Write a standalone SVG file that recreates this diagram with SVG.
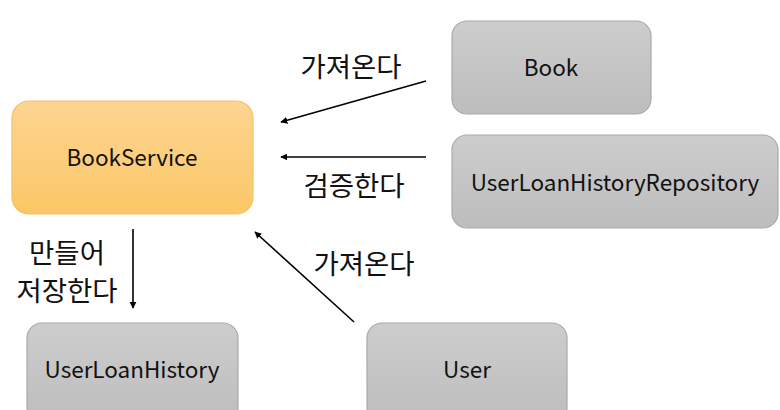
<svg xmlns="http://www.w3.org/2000/svg" width="780" height="410" viewBox="0 0 780 410">
<defs>
<linearGradient id="gOr" x1="0" y1="0" x2="0" y2="1"><stop offset="0" stop-color="#fdd592"/><stop offset="1" stop-color="#fbc766"/></linearGradient>
<linearGradient id="gGr" x1="0" y1="0" x2="0" y2="1"><stop offset="0" stop-color="#cdcdcd"/><stop offset="1" stop-color="#bdbdbd"/></linearGradient>
<marker id="ah" viewBox="0 0 10 10" refX="9" refY="5" markerWidth="7" markerHeight="7" markerUnits="userSpaceOnUse" orient="auto"><path d="M0,0 L10,5 L0,10 Z" fill="#000"/></marker>
<style>
.n{stroke-width:1.2}
.or{fill:url(#gOr);stroke:#f3c06a}
.gr{fill:url(#gGr);stroke:#a9a9a9}
.t{font-family:"Noto Sans CJK KR","Noto Sans",sans-serif;font-size:22.5px;fill:#111;text-anchor:middle;dominant-baseline:central}
.l{font-family:"Noto Sans CJK KR","Noto Sans",sans-serif;font-size:27.5px;fill:#111;text-anchor:middle;dominant-baseline:central}
.c{stroke:#000;stroke-width:1.6;fill:none;marker-end:url(#ah)}
</style>
</defs>
<rect width="780" height="410" fill="#fff"/>
<g id="BookService"><rect class="n or" x="12" y="101" width="241" height="113" rx="17"/><text class="t" x="132" y="156">BookService</text></g>
<g id="Book"><rect class="n gr" x="452" y="21" width="199" height="93" rx="15"/><text class="t" x="551" y="66">Book</text></g>
<g id="UserLoanHistoryRepository"><rect class="n gr" x="452" y="135" width="326" height="93" rx="15"/><text class="t" x="615" y="181">UserLoanHistoryRepository</text></g>
<g id="UserLoanHistory"><rect class="n gr" x="27" y="323" width="211" height="100" rx="15"/><text class="t" x="132" y="368">UserLoanHistory</text></g>
<g id="User"><rect class="n gr" x="367" y="323" width="200" height="100" rx="15"/><text class="t" x="467" y="368">User</text></g>
<g id="connectors">
<line class="c" x1="426" y1="81" x2="281" y2="122"/>
<line class="c" x1="426" y1="157" x2="281" y2="157"/>
<line class="c" x1="354" y1="322" x2="255" y2="232"/>
<line class="c" x1="133" y1="229" x2="133" y2="308"/>
</g>
<g id="labels">
<text class="l" x="351" y="65">가져온다</text>
<text class="l" x="354" y="184">검증한다</text>
<text class="l" x="364" y="262">가져온다</text>
<text class="l" x="67" y="251">만들어</text>
<text class="l" x="67" y="289">저장한다</text>
</g>
</svg>
